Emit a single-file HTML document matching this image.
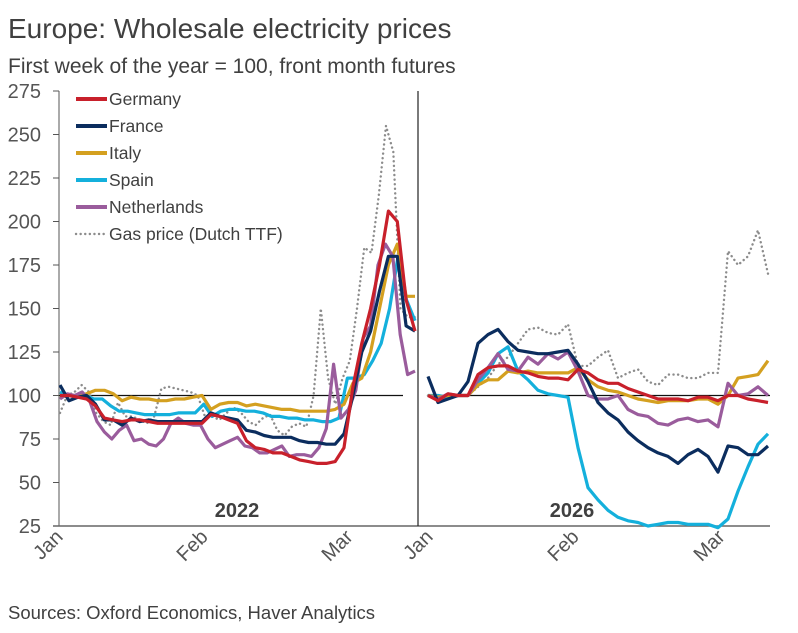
<!DOCTYPE html>
<html><head><meta charset="utf-8"><style>
body{margin:0;background:#fff;font-family:"Liberation Sans",sans-serif;}
svg text{font-family:"Liberation Sans",sans-serif;}
</style></head><body>
<svg id="c" width="798" height="628" viewBox="0 0 798 628" xmlns="http://www.w3.org/2000/svg">
<text x="8" y="38" font-size="28" fill="#404040">Europe: Wholesale electricity prices</text>
<text x="8" y="73" font-size="21" fill="#404040">First week of the year = 100, front month futures</text>
<text x="8" y="619" font-size="18.5" fill="#404040">Sources: Oxford Economics, Haver Analytics</text>
<g id="axes"></g>
<g id="marks"></g>
<g id="legend"></g>
</svg>
<script>
const yTicks=[25,50,75,100,125,150,175,200,225,250,275];
const seriesNames=["Germany","France","Italy","Spain","Netherlands","Gas price (Dutch TTF)"];
const seriesColors=["#c8202b","#0b2d5e","#d4a020","#14b0dc","#9a5c9c","#8c8c8c"];
const panelYears=["2022","2026"];
const monthLabels=["Jan","Feb","Mar"];
// 2022 panel
const de22=[100,100,99,98,94,87,86,85,86,86,85,84,84,84,84,84,84,89,88,86,84,74,70,69,67,67,65,63,62,61,61,62,70,105,130,150,175,206,200,155,137];
const fr22=[106,97,99,100,95,86,86,83,87,85,86,85,85,85,85,85,85,90,88,87,86,80,79,77,76,76,76,74,73,73,72,72,78,100,125,137,160,180,180,140,137];
const it22=[99,100,100,101,103,103,101,97,99,98,98,97,97,98,98,99,100,92,95,96,96,94,95,94,93,92,92,91,91,91,91,92,95,107,110,125,150,175,187,157,157];
const es22=[102,100,99,100,98,98,94,91,91,90,89,89,89,89,90,90,90,95,88,91,92,92,91,91,90,88,88,87,87,86,86,85,85,87,110,110,112,120,130,150,180,155,143];
const nl22=[98,101,100,102,97,85,79,75,80,83,74,75,72,71,75,84,87,84,83,83,75,70,72,74,76,71,70,67,67,69,71,65,66,66,65,70,81,118,87,92,103,133,140,175,187,180,135,112,114];
const gas22=[90,100,102,106,102,90,85,83,96,88,88,86,84,88,104,105,104,103,102,100,88,88,86,90,93,90,85,83,87,89,80,77,82,84,82,100,150,110,95,110,120,150,185,182,215,255,240,150,145,145];
// 2026 panel
const de26=[100,97,101,100,100,112,116,117,117,114,113,111,110,110,109,115,113,109,107,107,104,102,100,98,98,98,97,99,99,97,100,100,98,97,96];
const fr26=[111,96,98,100,108,130,135,138,131,126,125,124,124,125,126,118,108,96,90,86,79,74,70,67,65,61,66,69,65,56,71,70,66,66,71];
const it26=[100,99,100,100,100,106,109,109,114,113,114,113,113,113,113,116,109,105,103,102,100,98,97,96,97,97,97,98,98,95,100,110,111,112,120];
const es26=[100,100,99,100,100,107,113,124,128,114,109,103,101,100,99,70,47,40,34,30,28,27,25,26,27,27,26,26,26,24,29,45,59,72,78];
const nl26=[100,98,101,100,100,109,116,124,115,114,122,118,124,121,125,114,100,98,98,100,92,89,88,84,83,86,87,85,86,82,107,100,101,105,100];
const gas26=[100,97,99,100,100,105,110,118,122,130,138,139,136,135,141,117,117,122,126,110,113,115,108,106,112,112,110,110,113,113,183,175,180,195,170];

const NS="http://www.w3.org/2000/svg";
const Y0=526,Y1=91,VMIN=25,VMAX=275;
function yS(v){return Y0-(v-VMIN)/(VMAX-VMIN)*(Y0-Y1);}
const panels=[{x0:60,x1:415},{x0:428,x1:768}];
function xS(p,i,n){const P=panels[p];return P.x0+(P.x1-P.x0)*i/(n-1);}
function mk(tag,attrs,parent){const e=document.createElementNS(NS,tag);for(const k in attrs)e.setAttribute(k,attrs[k]);parent.appendChild(e);return e;}
const axes=document.getElementById('axes'),marks=document.getElementById('marks'),leg=document.getElementById('legend');

yTicks.forEach(t=>{
  const tk=mk('line',{x1:53,x2:59,y1:yS(t),y2:yS(t),stroke:'#555','stroke-width':1},axes);
  
  
  const tx=mk('text',{x:41,y:yS(t)+7,'font-size':20,fill:'#555','text-anchor':'end'},axes);
  tx.textContent=t;
  
  
});
let a=mk('line',{x1:59,x2:59,y1:Y1,y2:Y0,stroke:'#555','stroke-width':1},axes);


a=mk('line',{x1:53,x2:770,y1:Y0,y2:Y0,stroke:'#666','stroke-width':1.5},axes);


a=mk('line',{x1:418,x2:418,y1:Y1,y2:Y0,stroke:'#222','stroke-width':1.2},axes);


[[59,403],[428,770]].forEach(r=>{
  const l=mk('line',{x1:r[0],x2:r[1],y1:yS(100),y2:yS(100),stroke:'#111','stroke-width':1.2},axes);
  
  
});
const monthPos=[[64,209,354],[434,580,726]];
monthPos.forEach((arr,p)=>arr.forEach((x,j)=>{
  const t=mk('text',{x:x,y:538,'font-size':20,fill:'#555','text-anchor':'end',transform:`rotate(-45 ${x} 538)`},axes);
  t.textContent=monthLabels[j];
  
  
}));
[[237,517],[572,517]].forEach((pt,p)=>{
  const t=mk('text',{x:pt[0],y:pt[1],'font-size':20,'font-weight':'bold',fill:'#404040','text-anchor':'middle'},axes);
  t.textContent=panelYears[p];
  
  
});

const data=[[de22,fr22,it22,es22,nl22,gas22],[de26,fr26,it26,es26,nl26,gas26]];
const order=[5,3,2,4,1,0];
[0,1].forEach(p=>order.forEach(s=>{
  const arr=data[p][s];
  const pts=arr.map((v,i)=>xS(p,i,arr.length).toFixed(1)+','+yS(v).toFixed(1)).join(' ');
  const attrs={points:pts,fill:'none',stroke:seriesColors[s],'stroke-width':s==5?2.4:3.2,'stroke-linejoin':'round'};
  if(s==5){attrs['stroke-dasharray']='0.1 4.5';attrs['stroke-linecap']='round';}
  const pl=mk('polyline',attrs,marks);
  
  
}));

seriesNames.forEach((n,i)=>{
  const y=99+i*27;
  const la={x1:76,x2:107,y1:y,y2:y,stroke:seriesColors[i],'stroke-width':i==5?2.4:4};
  if(i==5){la['stroke-dasharray']='0.1 4.5';la['stroke-linecap']='round';}
  const l=mk('line',la,leg);
  
  
  const t=mk('text',{x:109,y:y+6,'font-size':17.5,fill:'#404040'},leg);
  t.textContent=n;
  
  
});
</script>
</body></html>
